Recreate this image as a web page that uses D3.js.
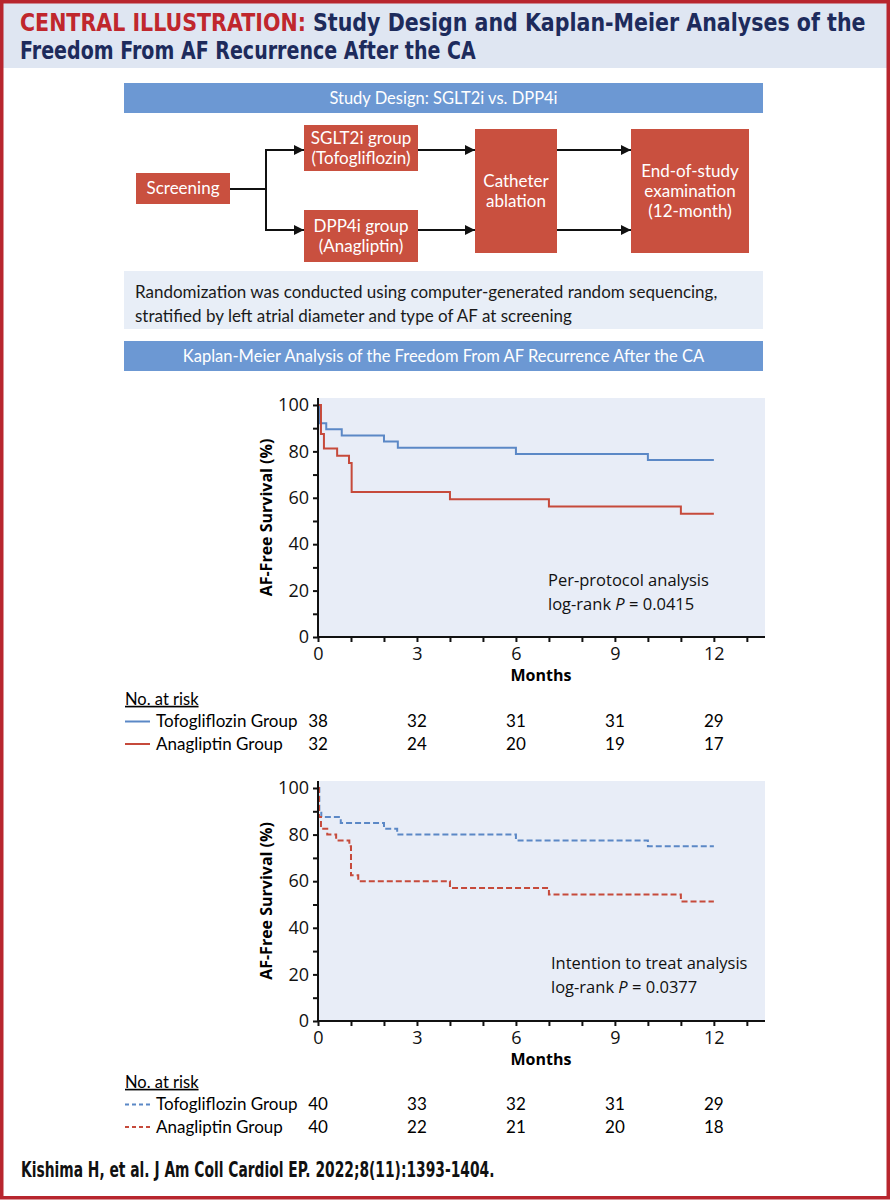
<!DOCTYPE html>
<html>
<head>
<meta charset="utf-8">
<script src="https://cdn.jsdelivr.net/npm/d3@7"></script>
<style>
  body { margin: 0; background: #fff; }
  svg { display: block; }
</style>
</head>
<body>
<svg id="fig" width="890" height="1200"></svg>
<script>
// ---- data ----
const monthTicks = [0, 3, 6, 9, 12];
const yTicks = [0, 20, 40, 60, 80, 100];

// per-protocol
const ppTofoTimes = [0, 0.03, 0.25, 0.72, 2.0, 2.42, 6.0, 10.0, 12];
const ppTofoSurv = [100, 92.1, 89.5, 86.8, 84.2, 81.6, 78.9, 76.3, 76.3];
const ppAnaTimes = [0, 0.09, 0.18, 0.58, 0.94, 1.02, 4.0, 7.0, 11.0, 12];
const ppAnaSurv = [100, 87.5, 81.25, 78.1, 75.0, 62.5, 59.4, 56.25, 53.1, 53.1];

// intention to treat
const ittTofoTimes = [0, 0.04, 0.1, 0.69, 2.0, 2.4, 6.0, 10.0, 12];
const ittTofoSurv = [100, 90, 87.5, 85, 82.5, 80, 77.5, 75, 75];
const ittAnaTimes = [0, 0.03, 0.09, 0.28, 0.55, 0.95, 1.0, 1.22, 4.0, 7.0, 11.0, 12];
const ittAnaSurv = [100, 87.5, 82.5, 80, 77.5, 75, 62.5, 60, 57.1, 54.3, 51.3, 51.3];

// numbers at risk
const groupNames = ["Tofogliflozin Group", "Anagliptin Group"];
const ppRiskTofo = [38, 32, 31, 31, 29];
const ppRiskAna = [32, 24, 20, 19, 17];
const ittRiskTofo = [40, 33, 32, 31, 29];
const ittRiskAna = [40, 22, 21, 20, 18];

// ---- styles ----
const RED = "#c9503f", BLUE = "#5b88c6", KMRED = "#c64a3b";
const narrow = "'DejaVu Sans', sans-serif";
const body = "Lato, 'Noto Sans', sans-serif";
const chartFont = "'Open Sans', 'Noto Sans', sans-serif";

const svg = d3.select("#fig");

// no condensed face installed: squeeze the bold line horizontally to the original's width
function condensedText(parent, x, y, w) {
  const t = parent.append("text").attr("x", 0).attr("y", 0);
  return { t, fit() {
    const L = t.node().getComputedTextLength();
    t.attr("transform", `translate(${x},${y}) scale(${Math.min(1, w / L)},1)`);
  } };
}

// header
svg.append("rect").attr("x", 0).attr("y", 0).attr("width", 890).attr("height", 68).attr("fill", "#dfe6f2");
const title = svg.append("g").style("font-family", narrow)
  .style("font-weight", "bold").style("font-size", "24px");
const l1 = condensedText(title, 20, 31, 846);
l1.t.append("tspan").attr("fill", "#c0272d").text("CENTRAL ILLUSTRATION: ");
l1.t.append("tspan").attr("fill", "#1d2b5c").text("Study Design and Kaplan-Meier Analyses of the");
l1.fit();
const l2 = condensedText(title, 20, 59, 456);
l2.t.attr("fill", "#1d2b5c").text("Freedom From AF Recurrence After the CA");
l2.fit();

// outer border
svg.append("rect").attr("x", 1.75).attr("y", 1.75).attr("width", 886.5).attr("height", 1196)
  .attr("fill", "none").attr("stroke", "#b8262e").attr("stroke-width", 3.5);

// banners
function banner(y, label) {
  svg.append("rect").attr("x", 124).attr("y", y).attr("width", 639).attr("height", 30).attr("fill", "#6c98d3");
  svg.append("text").attr("x", 443.5).attr("y", y + 15).attr("dy", "0.35em")
    .attr("text-anchor", "middle").attr("fill", "#fff")
    .style("font-family", body).style("font-size", "16.5px").text(label);
}
banner(83, "Study Design: SGLT2i vs. DPP4i");
banner(341, "Kaplan-Meier Analysis of the Freedom From AF Recurrence After the CA");

// flow diagram
svg.append("defs").append("marker").attr("id", "arr")
  .attr("viewBox", "0 0 10 10").attr("refX", 10).attr("refY", 5)
  .attr("markerWidth", 6).attr("markerHeight", 5).attr("markerUnits", "strokeWidth")
  .attr("orient", "auto")
  .append("path").attr("d", "M0,0L10,5L0,10Z").attr("fill", "#111");

const boxes = [
  { x: 136, y: 173, w: 94, h: 31, lines: ["Screening"] },
  { x: 304, y: 125, w: 114, h: 46, lines: ["SGLT2i group", "(Tofogliflozin)"] },
  { x: 304, y: 210, w: 114, h: 52, lines: ["DPP4i group", "(Anagliptin)"] },
  { x: 475, y: 129, w: 82, h: 124, lines: ["Catheter", "ablation"] },
  { x: 631, y: 129, w: 118, h: 124, lines: ["End-of-study", "examination", "(12-month)"] }
];
const flow = svg.append("g");
boxes.forEach(b => {
  flow.append("rect").attr("x", b.x).attr("y", b.y).attr("width", b.w).attr("height", b.h).attr("fill", RED);
  const lh = 20, cy = b.y + b.h / 2 - (b.lines.length - 1) * lh / 2;
  b.lines.forEach((l, i) => {
    flow.append("text").attr("x", b.x + b.w / 2).attr("y", cy + i * lh).attr("dy", "0.35em")
      .attr("text-anchor", "middle").attr("fill", "#fff")
      .style("font-family", body).style("font-size", "17px").text(l);
  });
});
const line = (pts, arrow) => flow.append("path").attr("d", d3.line()(pts))
  .attr("fill", "none").attr("stroke", "#111").attr("stroke-width", 2)
  .attr("marker-end", arrow ? "url(#arr)" : null);
line([[230, 189], [266, 189]], false);
line([[266, 150], [266, 230]], false);
line([[265, 150], [304, 150]], true);
line([[265, 230], [304, 230]], true);
line([[418, 150], [475, 150]], true);
line([[418, 230], [475, 230]], true);
line([[557, 150], [631, 150]], true);
line([[557, 230], [631, 230]], true);

// randomization note
svg.append("rect").attr("x", 124).attr("y", 271).attr("width", 639).attr("height", 58).attr("fill", "#e8eef7");
["Randomization was conducted using computer-generated random sequencing,",
 "stratified by left atrial diameter and type of AF at screening"].forEach((l, i) => {
  svg.append("text").attr("x", 135).attr("y", 292 + i * 24).attr("dy", "0.35em").attr("fill", "#1a1a1a")
    .style("font-family", body).style("font-size", "17px").text(l);
});

// ---- Kaplan-Meier panels ----
function kmPanel(cfg) {
  const g = svg.append("g");
  const x = d3.scaleLinear().domain([0, 13.55]).range([318, 765]);
  const y = d3.scaleLinear().domain([0, 103]).range([cfg.axisY, cfg.top]);

  g.append("rect").attr("x", 318).attr("y", cfg.top).attr("width", 765 - 318).attr("height", cfg.axisY - cfg.top)
    .attr("fill", "#e8edf7");

  const step = d3.line().curve(d3.curveStepAfter).x(d => x(d[0])).y(d => y(d[1]));
  cfg.series.forEach(s => {
    g.append("path").datum(d3.zip(s.times, s.surv))
      .attr("d", step).attr("fill", "none").attr("stroke", s.color).attr("stroke-width", 2)
      .attr("stroke-dasharray", cfg.dash);
  });

  // axes
  const xAxis = d3.axisBottom(x).tickValues(d3.range(0, 14)).tickSize(5)
    .tickFormat(d => monthTicks.includes(d) ? d : "");
  const gx = g.append("g").attr("transform", `translate(0,${cfg.axisY})`).call(xAxis);
  const yAxis = d3.axisLeft(y).tickValues(d3.range(0, 101, 10)).tickSize(5)
    .tickFormat(d => yTicks.includes(d) ? d : "");
  const gy = g.append("g").attr("transform", "translate(318,0)").call(yAxis);
  [gx, gy].forEach(a => {
    a.select(".domain").attr("stroke", "#111").attr("stroke-width", 2);
    a.selectAll(".tick line").attr("stroke", "#111").attr("stroke-width", 2);
    a.selectAll("text").style("font-family", chartFont).style("font-size", "18px").attr("fill", "#111");
  });
  gx.select(".domain").attr("d", `M318,0H765`);
  gy.select(".domain").attr("d", `M0,${cfg.axisY}V${cfg.top}`);
  gx.selectAll("text").attr("y", 10);
  gy.selectAll("text").attr("x", -9);

  g.append("text").attr("x", 541).attr("y", cfg.axisY + 44).attr("text-anchor", "middle")
    .style("font-family", chartFont).style("font-weight", "bold").style("font-size", "16px").text("Months");
  g.append("text").attr("transform", `translate(266,${(cfg.top + cfg.axisY) / 2}) rotate(-90)`)
    .attr("text-anchor", "middle").attr("dy", "0.35em")
    .style("font-family", chartFont).style("font-weight", "bold").style("font-size", "16px")
    .text("AF-Free Survival (%)");

  // annotation
  const ann = g.append("text").attr("x", cfg.annX).attr("y", cfg.annY)
    .style("font-family", chartFont).style("font-size", "16.5px").attr("fill", "#111");
  ann.append("tspan").attr("x", cfg.annX).text(cfg.annLabel);
  const pl = ann.append("tspan").attr("x", cfg.annX).attr("dy", 23.5);
  pl.append("tspan").text("log-rank ");
  pl.append("tspan").style("font-style", "italic").text("P");
  pl.append("tspan").text(" = " + cfg.p);

  // numbers at risk
  const tb = cfg.tableY;
  g.append("text").attr("x", 125).attr("y", tb).attr("dy", "0.35em")
    .attr("text-decoration", "underline")
    .style("font-family", body).style("font-size", "16.5px").text("No. at risk");
  cfg.series.forEach((s, i) => {
    const ry = tb + 22.5 * (i + 1);
    g.append("line").attr("x1", 125).attr("x2", 150).attr("y1", ry).attr("y2", ry)
      .attr("stroke", s.color).attr("stroke-width", 2).attr("stroke-dasharray", cfg.dash ? "4,3" : null);
    g.append("text").attr("x", 156).attr("y", ry).attr("dy", "0.35em")
      .style("font-family", body).style("font-size", "17px").text(groupNames[i]);
    g.selectAll(null).data(s.risk).join("text")
      .attr("x", (d, j) => x(monthTicks[j])).attr("y", ry).attr("dy", "0.35em")
      .attr("text-anchor", "middle")
      .style("font-family", body).style("font-size", "17px").text(d => d);
  });
}

kmPanel({
  top: 398, axisY: 637, dash: null,
  series: [
    { times: ppTofoTimes, surv: ppTofoSurv, color: BLUE, risk: ppRiskTofo },
    { times: ppAnaTimes, surv: ppAnaSurv, color: KMRED, risk: ppRiskAna }
  ],
  annX: 548, annY: 586, annLabel: "Per-protocol analysis", p: "0.0415",
  tableY: 699
});

kmPanel({
  top: 781, axisY: 1021, dash: "6,3",
  series: [
    { times: ittTofoTimes, surv: ittTofoSurv, color: BLUE, risk: ittRiskTofo },
    { times: ittAnaTimes, surv: ittAnaSurv, color: KMRED, risk: ittRiskAna }
  ],
  annX: 551, annY: 969, annLabel: "Intention to treat analysis", p: "0.0377",
  tableY: 1082
});

// footer
const footG = svg.append("g").attr("fill", "#111").style("font-family", narrow)
  .style("font-weight", "bold").style("font-size", "21px");
const foot = condensedText(footG, 21, 1177, 474);
foot.t.text("Kishima H, et al. J Am Coll Cardiol EP. 2022;8(11):1393-1404.");
foot.fit();
</script>
</body>
</html>
